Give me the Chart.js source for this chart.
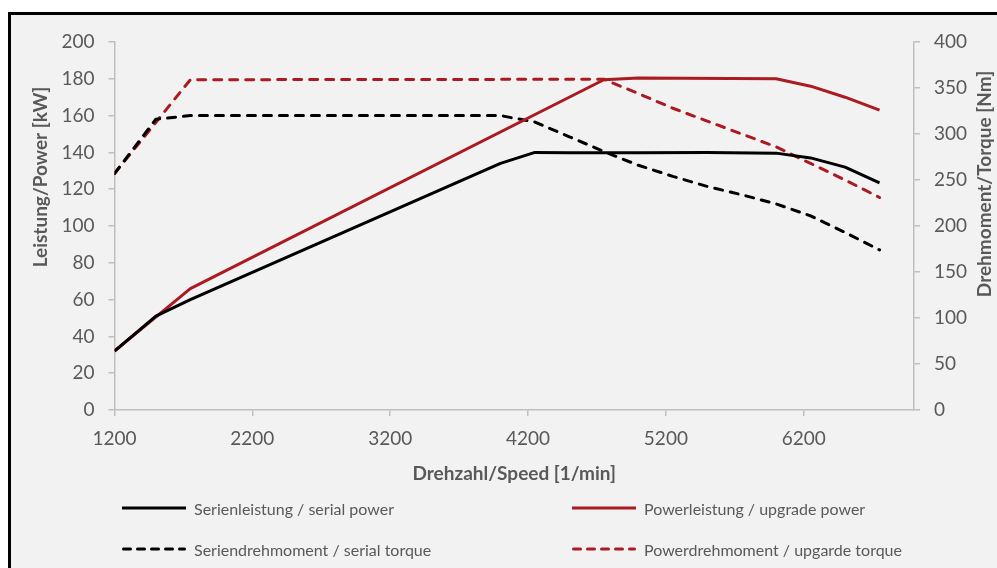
<!DOCTYPE html>
<html>
<head>
<meta charset="utf-8">
<script src="https://cdn.jsdelivr.net/npm/chart.js@4.4.1/dist/chart.umd.min.js"></script>
<style>
  body { margin: 0; background: #fff; overflow: hidden; font-family: Lato, sans-serif; }
  #frame { position: absolute; left: 8px; top: 12px; width: 1100px; height: 700px;
           border-left: 3px solid #000; border-top: 3px solid #000; background: #f2f2f2; }
  #wrap { position: absolute; left: 0; top: 0; width: 997px; height: 568px; }
  .leg { position: absolute; height: 20px; display: flex; align-items: center;
         font-size: 16px; color: #595959; white-space: nowrap; }
  .leg svg { margin-right: 8px; }
</style>
</head>
<body>
<div id="frame"></div>
<div id="wrap"><canvas id="c" width="997" height="568"></canvas></div>
<div id="legend"></div>
<script>
var xTicks = [1200, 2200, 3200, 4200, 5200, 6200];

var rpmSerialPower = [1200, 1500, 1750, 4000, 4250, 4500, 5000, 5500, 6000, 6250, 6500, 6750];
var serialPower = [32, 51, 60, 134, 140, 139.8, 139.8, 140, 139.6, 137, 132, 123.5];

var rpmUpgradePower = [1200, 1750, 4750, 5000, 6000, 6250, 6500, 6750];
var upgradePower = [32, 66, 179.5, 180.5, 180, 176, 170, 163];

var rpmSerialTorque = [1200, 1500, 1750, 4000, 4250, 4500, 4750, 5000, 5250, 5500, 5750, 6000, 6250, 6500, 6750];
var serialTorque = [257, 316, 320, 320, 313, 297, 281, 266, 254, 243, 234, 224, 211, 193, 174];

var rpmUpgradeTorque = [1200, 1750, 4750, 5000, 5250, 5500, 5750, 6000, 6250, 6500, 6750];
var upgradeTorque = [257, 359, 359.5, 344, 328, 314, 300, 286, 268, 250, 231];

var xTitle = 'Drehzahl/Speed [1/min]';
var yTitle = 'Leistung/Power [kW]';
var y2Title = 'Drehmoment/Torque [Nm]';

var red = '#ab1a20';
var gray = '#595959';

function pts(xs, ys) {
  return xs.map(function (x, i) { return { x: x, y: ys[i] }; });
}

function ds(label, xs, ys, color, axis, dashed) {
  return {
    label: label, data: pts(xs, ys), borderColor: color, backgroundColor: color,
    borderWidth: 3, pointRadius: 0, tension: 0, yAxisID: axis,
    borderDash: dashed ? [8, 8] : [], borderCapStyle: dashed ? 'round' : 'butt',
    borderJoinStyle: 'round'
  };
}

// y axis titles are drawn here so both read bottom to top
var axisTitles = {
  id: 'axisTitles',
  afterDraw: function (chart) {
    var ctx = chart.ctx;
    ctx.save();
    ctx.font = 'bold 19px Lato';
    ctx.fillStyle = gray;
    ctx.textAlign = 'center';
    ctx.textBaseline = 'middle';
    [[41, 177, yTitle], [985, 184, y2Title]].forEach(function (t) {
      ctx.save();
      ctx.translate(t[0], t[1]);
      ctx.rotate(-Math.PI / 2);
      ctx.fillText(t[2], 0, 0);
      ctx.restore();
    });
    ctx.restore();
  }
};

var tickFont = { family: 'Lato', size: 19 };
var axisGrid = { drawOnChartArea: false, color: '#bfbfbf', tickLength: 6, lineWidth: 1.5 };
var axisBorder = { color: '#bfbfbf', width: 1.5 };

var chart = new Chart(document.getElementById('c'), {
  type: 'line',
  data: {
    datasets: [
      ds('Serienleistung / serial power', rpmSerialPower, serialPower, '#000', 'y', false),
      ds('Powerleistung / upgrade power', rpmUpgradePower, upgradePower, red, 'y', false),
      ds('Seriendrehmoment / serial torque', rpmSerialTorque, serialTorque, '#000', 'y2', true),
      ds('Powerdrehmoment / upgarde torque', rpmUpgradeTorque, upgradeTorque, red, 'y2', true)
    ]
  },
  options: {
    responsive: false,
    animation: false,
    devicePixelRatio: 1,
    layout: { padding: { left: 11, right: 0, top: 42, bottom: 78 } },
    plugins: { legend: { display: false }, tooltip: { enabled: false } },
    scales: {
      x: {
        type: 'linear', min: 1200, max: 7000,
        afterBuildTicks: function (s) { s.ticks = xTicks.map(function (v) { return { value: v }; }); },
        afterFit: function (s) { s.height = 80; },
        grid: axisGrid, border: axisBorder,
        ticks: { font: tickFont, color: gray, padding: 11, maxRotation: 0,
                 callback: function (v) { return String(v); } },
        title: { display: true, text: xTitle, color: gray, font: { family: 'Lato', size: 19, weight: 'bold' }, padding: { bottom: 5 } }
      },
      y: {
        position: 'left', min: 0, max: 200,
        afterFit: function (s) { s.width = 103.5; },
        grid: axisGrid, border: axisBorder,
        ticks: { stepSize: 20, font: tickFont, color: gray, padding: 14 }
      },
      y2: {
        position: 'right', min: 0, max: 400,
        afterFit: function (s) { s.width = 83; },
        grid: axisGrid, border: axisBorder,
        ticks: { stepSize: 50, font: tickFont, color: gray, padding: 14 }
      }
    }
  },
  plugins: [axisTitles]
});

// html legend in a 2x2 grid
var legend = document.getElementById('legend');
var legPos = [[122, 498], [572, 498], [122, 539], [572, 539]];
chart.data.datasets.forEach(function (d, i) {
  var item = document.createElement('div');
  item.className = 'leg';
  item.style.left = legPos[i][0] + 'px';
  item.style.top = legPos[i][1] + 'px';
  var dash = d.borderDash.length ? ' stroke-dasharray="7 7" stroke-linecap="round"' : '';
  item.innerHTML = '<svg width="64" height="6"><line x1="' + (dash ? 1.5 : 0) + '" y1="3" x2="' + (dash ? 62.5 : 64) +
    '" y2="3" stroke="' + d.borderColor + '" stroke-width="3"' + dash + '/></svg>' + d.label;
  legend.appendChild(item);
});
</script>
</body>
</html>
